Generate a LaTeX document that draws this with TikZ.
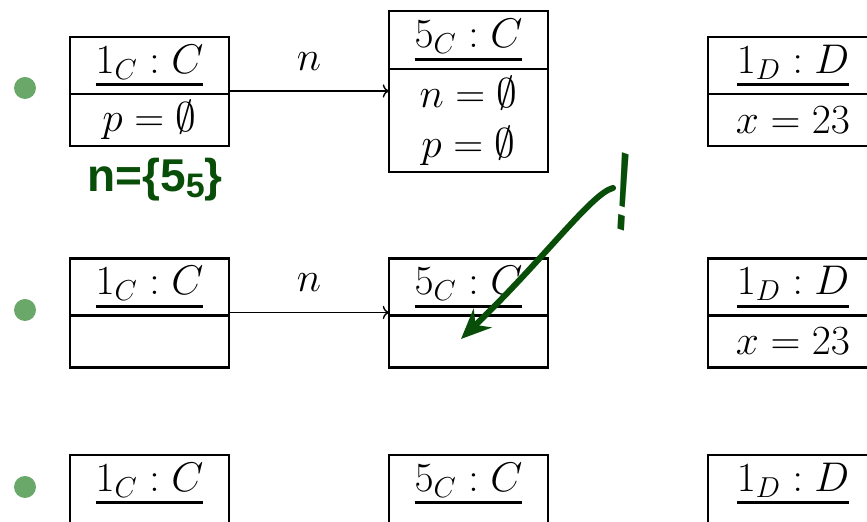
\documentclass[tikz,border=0pt]{standalone}
\usepackage{fontspec}
\usetikzlibrary{positioning,arrows.meta}
\newfontfamily\inkfont{Liberation Sans}
\definecolor{cBULLET}{RGB}{106,168,106}
\definecolor{cINK}{RGB}{8,78,8}
% object name, underlined with a heavier rule
\newcommand\objname[1]{\vtop{\hbox{$#1$}\kern2pt\hrule height 1.4pt}}
\newcommand\objfont{\fontsize{22}{25}\selectfont}
\tikzset{
  objhead/.style={draw,line width=1.4pt,outer sep=0pt,inner sep=0pt,minimum width=79.5pt,minimum height=28.5pt,font=\objfont},
  objbody/.style={objhead,minimum height=26pt,align=center},
  objline/.style={line width=1.4pt},
  link/.style={->,line width=0.7pt},
  ink/.style={cINK,line width=3pt,line cap=round,line join=round},
}
\begin{document}
\begin{tikzpicture}[x=0.5pt,y=-0.5pt]
\clip (0,0) rectangle (867,522);
% first state
\fill[cBULLET] (25,88) circle (11);
\node[objhead] (c1a) at (149.5,65.5) {\objname{1_C : C}};
\node[objbody,below=0pt of c1a] (v1a) {$p = \emptyset$};
\node[objhead,minimum height=29pt] (c5a) at (468.5,40) {\objname{5_C : C}};
\node[objbody,minimum height=51.5pt,below=0pt of c5a] (v5a) {$n = \emptyset$\\$p = \emptyset$};
\node[objhead,minimum width=85pt] (d1a) at (793,65.5) {\objname{1_D : D}};
\node[objbody,minimum width=85pt,below=0pt of d1a] (w1a) {$x = 23$};
\draw[link] ([yshift=1.5pt]c1a.south east) -- ([yshift=1.5pt]c1a.south east -| v5a.west)
  node[midway,above=10pt,inner sep=0pt,font=\objfont] {$n$};
% second state
\fill[cBULLET] (25,310) circle (11);
\node[objhead] (c1b) at (149.5,287) {\objname{1_C : C}};
\node[objbody,below=0pt of c1b] (v1b) {};
\node[objhead] (c5b) at (468.5,287) {\objname{5_C : C}};
\node[objbody,below=0pt of c5b] (v5b) {};
\node[objhead,minimum width=85pt] (d1b) at (793,287) {\objname{1_D : D}};
\node[objbody,minimum width=85pt,below=0pt of d1b] (w1b) {$x = 23$};
\draw[link] ([yshift=1.5pt]c1b.south east) -- ([yshift=1.5pt]c1b.south east -| v5b.west)
  node[midway,above=10pt,inner sep=0pt,font=\objfont] {$n$};
% third state
\fill[cBULLET] (25,487) circle (11);
\node[objhead,draw=none] (c1c) at (149.5,483.5) {\objname{1_C : C}};
\node[objhead,draw=none] (c5c) at (468.5,483.5) {\objname{5_C : C}};
\node[objhead,draw=none,minimum width=85pt] (d1c) at (793,483.5) {\objname{1_D : D}};
\foreach \b in {c1c,c5c,d1c}
  \draw[objline] (\b.west |- 0,540) -- (\b.north west) -- (\b.north east) -- (\b.east |- 0,540);
% ink
\node[cINK,font={\inkfont\bfseries\fontsize{23}{23}\selectfont}] (note) at (155,180)
  {n=\{5{\fontsize{17}{17}\selectfont\raisebox{-3pt}{5}}\}};
\coordinate (inkA) at (613,188);
\coordinate (inkB) at (461,339);
\draw[ink,-{Stealth[length=15pt,width=13pt]}] (inkA) .. controls (592,193) and (545,258) .. (inkB);
\node[cINK,font={\inkfont\bfseries\fontsize{56}{56}\selectfont},xscale=0.42,transform shape,rotate=-8] (bang) at (623,192) {!};
\end{tikzpicture}
\end{document}
